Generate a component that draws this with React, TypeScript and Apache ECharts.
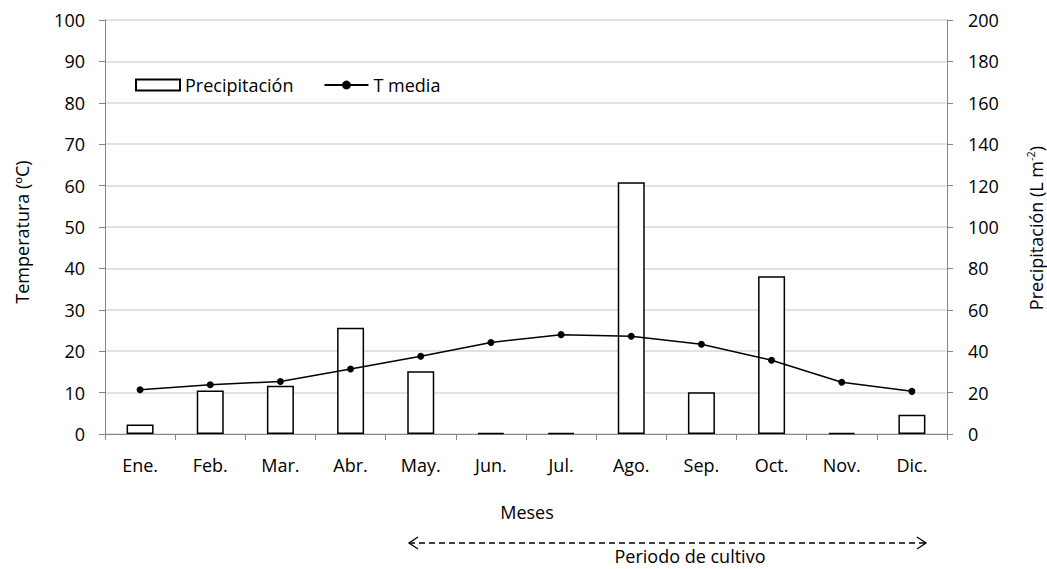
import { useEffect, useRef } from 'react';
import * as echarts from 'echarts';

const months = ['Ene.', 'Feb.', 'Mar.', 'Abr.', 'May.', 'Jun.', 'Jul.', 'Ago.', 'Sep.', 'Oct.', 'Nov.', 'Dic.'];
const precipitation = [4.6, 21.0, 23.3, 51.3, 30.3, 0.6, 0.6, 121.6, 20.2, 76.2, 0.6, 9.3];
const tMedia = [10.7, 11.9, 12.7, 15.7, 18.8, 22.1, 24.0, 23.6, 21.7, 17.8, 12.5, 10.3];

const FONT = "'Open Sans', sans-serif";
const FS = 18;
const AXIS_GRAY = '#868686';
const GRID_GRAY = '#d9d9d9';

export default function App() {
  const ref = useRef<HTMLDivElement>(null);
  useEffect(() => {
    if (!ref.current) return;
    const chart = echarts.init(ref.current, null, { renderer: 'svg' });
    chart.setOption({
      animation: false,
      backgroundColor: '#fff',
      textStyle: { fontFamily: FONT },
      grid: { left: 105, right: 100, top: 20, bottom: 135, containLabel: false },
      legend: {
        left: 135,
        top: 76,
        padding: 0,
        itemWidth: 44,
        itemHeight: 11,
        itemGap: 30,
        textStyle: { fontSize: FS, color: '#000', fontFamily: FONT },
        data: [{ name: 'Precipitación', icon: 'rect' }, { name: 'T media' }],
      },
      xAxis: {
        type: 'category',
        data: months,
        boundaryGap: true,
        axisLine: { lineStyle: { color: AXIS_GRAY, width: 1 } },
        axisTick: { show: true, interval: 0, length: 6, lineStyle: { color: AXIS_GRAY } },
        axisLabel: { color: '#000', fontSize: FS, margin: 22, fontFamily: FONT, interval: 0 },
        splitLine: { show: false },
      },
      yAxis: [
        {
          type: 'value',
          min: 0,
          max: 100,
          interval: 10,
          axisLine: { show: true, lineStyle: { color: AXIS_GRAY, width: 1 } },
          axisTick: { show: true, length: 6, lineStyle: { color: AXIS_GRAY } },
          axisLabel: { color: '#000', fontSize: FS, margin: 20, fontFamily: FONT },
          splitLine: { show: true, lineStyle: { color: GRID_GRAY, width: 1.5 } },
        },
        {
          type: 'value',
          min: 0,
          max: 200,
          interval: 20,
          position: 'right',
          axisLine: { show: true, lineStyle: { color: AXIS_GRAY, width: 1 } },
          axisTick: { show: true, length: 6, lineStyle: { color: AXIS_GRAY } },
          axisLabel: { color: '#000', fontSize: FS, margin: 21, fontFamily: FONT },
          splitLine: { show: false },
        },
      ],
      series: [
        {
          name: 'Precipitación',
          type: 'bar',
          yAxisIndex: 1,
          data: precipitation,
          barWidth: 27,
          itemStyle: { color: '#ffffff', borderColor: '#000000', borderWidth: 1.5 },
        },
        {
          name: 'T media',
          type: 'line',
          yAxisIndex: 0,
          data: tMedia,
          symbol: 'circle',
          symbolSize: 7,
          lineStyle: { color: '#000', width: 1.5 },
          itemStyle: { color: '#000' },
          z: 5,
        },
      ],
      graphic: [
        {
          type: 'text',
          x: 22,
          y: 232,
          rotation: Math.PI / 2,
          style: {
            text: 'Temperatura (ºC)',
            fontSize: FS,
            fontFamily: FONT,
            fill: '#000',
            align: 'center',
            verticalAlign: 'middle',
          },
        },
        {
          type: 'text',
          x: 1036,
          y: 228,
          rotation: Math.PI / 2,
          style: {
            text: '{a|Precipitación (L m}{b|-2}{a|)}',
            rich: {
              a: { fontSize: FS, fontFamily: FONT, fill: '#000', lineHeight: 22 },
              b: { fontSize: 11, fontFamily: FONT, fill: '#000', verticalAlign: 'top', lineHeight: 22 },
            },
            align: 'center',
            verticalAlign: 'middle',
          },
        },
        {
          type: 'text',
          x: 527,
          y: 512,
          style: {
            text: 'Meses',
            fontSize: FS,
            fontFamily: FONT,
            fill: '#000',
            align: 'center',
            verticalAlign: 'middle',
          },
        },
        {
          type: 'line',
          shape: { x1: 409, y1: 543, x2: 926, y2: 543 },
          style: { stroke: '#000', lineWidth: 1.3, lineDash: [6, 4] },
        },
        {
          type: 'polyline',
          shape: { points: [[418, 537], [409, 543], [418, 549]] },
          style: { stroke: '#000', lineWidth: 1.3, fill: null },
        },
        {
          type: 'polyline',
          shape: { points: [[917, 537], [926, 543], [917, 549]] },
          style: { stroke: '#000', lineWidth: 1.3, fill: null },
        },
        {
          type: 'text',
          x: 690,
          y: 556,
          style: {
            text: 'Periodo de cultivo',
            fontSize: FS,
            fontFamily: FONT,
            fill: '#000',
            align: 'center',
            verticalAlign: 'middle',
          },
        },
      ],
    });
    return () => chart.dispose();
  }, []);
  return (
    <div
      ref={ref}
      style={{ position: 'fixed', left: 0, top: 0, width: 1047, height: 569, background: '#fff' }}
    />
  );
}
